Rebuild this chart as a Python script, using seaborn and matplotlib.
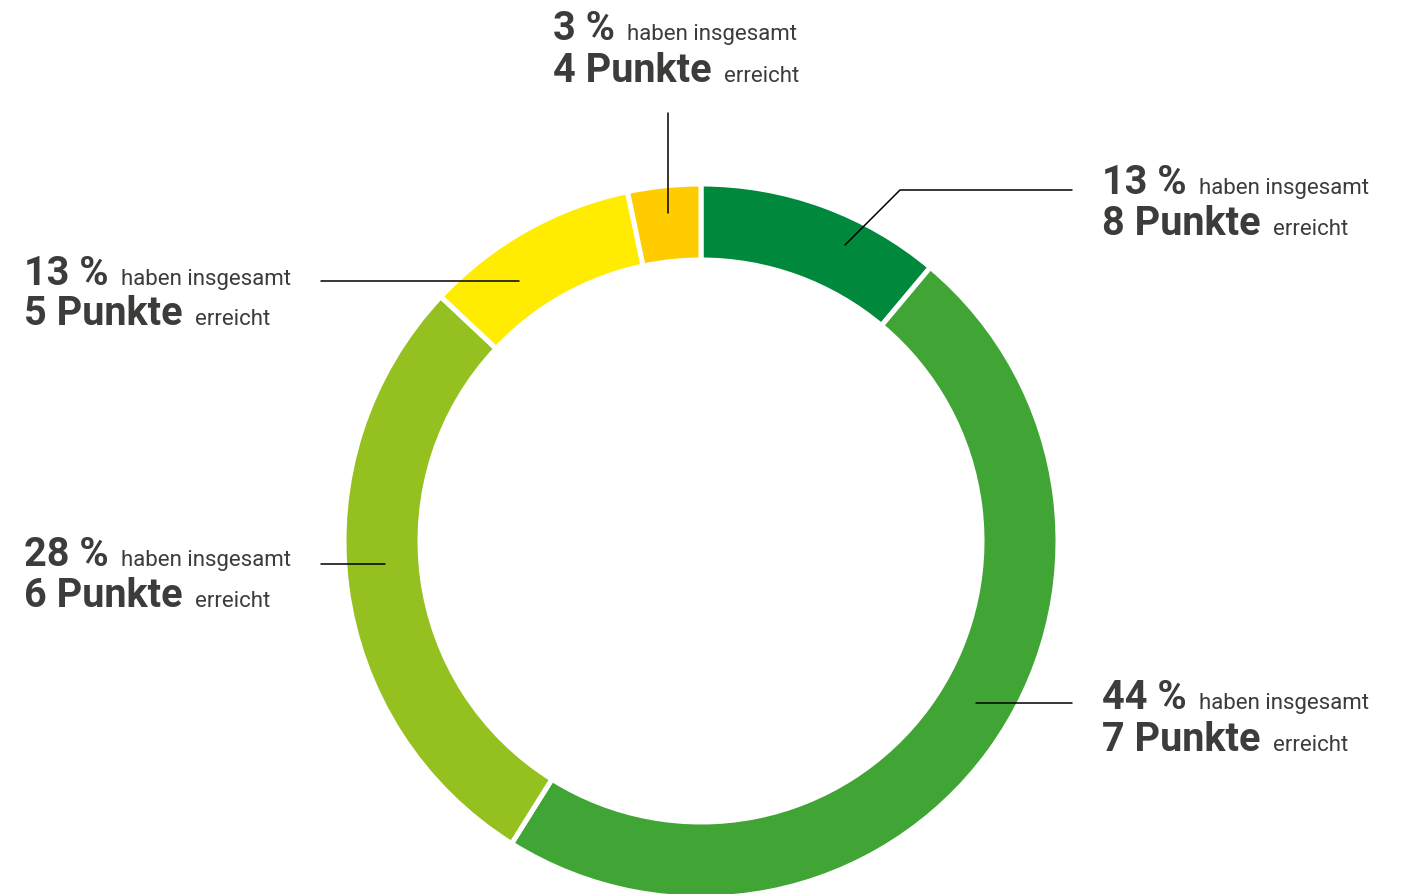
import matplotlib
matplotlib.use("Agg")
import matplotlib.pyplot as plt
import seaborn as sns

sns.set_theme(style="white")
plt.rcParams['font.family'] = ['Roboto', 'DejaVu Sans']

# Data (drawn shares read from the ring; label texts as printed)
punkte = ["8 Punkte", "7 Punkte", "6 Punkte", "5 Punkte", "4 Punkte"]
prozent_labels = ["13 %", "44 %", "28 %", "13 %", "3 %"]
anteile = [11.1, 47.8, 28.1, 9.7, 3.3]
farben = ["#00883D", "#41A535", "#95C120", "#FFEC00", "#FFCC00"]

W, H = 1410, 894
fig = plt.figure(figsize=(W / 100, H / 100), dpi=100)
ax = fig.add_axes([0, 0, 1, 1])

palette = sns.color_palette(farben)
cx, cy = 701, H - 541
R = 357
ring = 76
ax.pie(anteile, colors=palette, startangle=90, counterclock=False,
       center=(cx, cy), radius=R, frame=True,
       wedgeprops=dict(width=ring, edgecolor="white", linewidth=3.6))
ax.set_xlim(0, W)
ax.set_ylim(0, H)
ax.set_aspect("equal")
ax.axis("off")

TXT = "#3C3C3B"
fig.canvas.draw()
renderer = fig.canvas.get_renderer()


def block(x, y1, y2, big1, big2):
    for yb, big, small in ((y1, big1, "haben insgesamt"), (y2, big2, "erreicht")):
        t = ax.text(x, H - yb, big, fontsize=28.5, fontweight="bold", color=TXT,
                    ha="left", va="baseline")
        bb = t.get_window_extent(renderer)
        ax.text(bb.x1 + 12, H - yb, small, fontsize=16, color=TXT,
                ha="left", va="baseline")


# positions: (x, baseline1, baseline2)
pos = [(1102, 194, 235), (1102, 709, 751), (24, 566, 607), (24, 285, 325), (553, 40, 82)]
for (x, b1, b2), pl, pk in zip(pos, prozent_labels, punkte):
    block(x, b1, b2, pl, pk)

# leader lines
lk = dict(color="black", linewidth=1.1)
ax.plot([845, 900, 1072], [H - 245, H - 190, H - 190], **lk)
ax.plot([976, 1072], [H - 703, H - 703], **lk)
ax.plot([321, 385], [H - 564, H - 564], **lk)
ax.plot([321, 519], [H - 281, H - 281], **lk)
ax.plot([668, 668], [H - 113, H - 213], **lk)

fig.savefig("out.png", dpi=100, facecolor="white")
